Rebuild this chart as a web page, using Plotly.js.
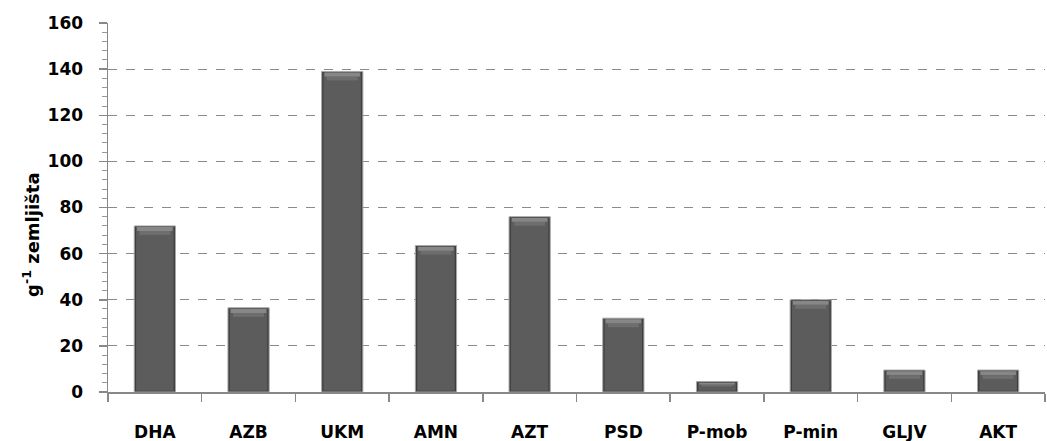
<!DOCTYPE html>
<html>
<head>
<meta charset="utf-8">
<script src="https://cdn.plot.ly/plotly-3.0.1.min.js"></script>
<style>html,body{margin:0;padding:0;background:#fff;}#chart{width:1047px;height:441px;}</style>
</head>
<body>
<div id="chart"></div>
<script>
const categories = ["DHA", "AZB", "UKM", "AMN", "AZT", "PSD", "P-mob", "P-min", "GLJV", "AKT"];
const values = [72, 36.5, 139, 63.5, 76, 32, 4.5, 40, 9.5, 9.5];
const yTickVals = [0, 20, 40, 60, 80, 100, 120, 140, 160];
const yTitle = "g<sup>-1</sup> zemljišta";

const FONT = "DejaVu Sans, Liberation Sans, sans-serif";
const edge = 0.5;
const capH = values.map(v => Math.min(3.4, v * 0.35));

const traces = [
  { // outer bar with light outline and dark edge
    type: "bar", x: categories, y: values, width: 0.44,
    marker: {color: "#3e3e3e", line: {color: "#a8a8a8", width: 1}},
    hoverinfo: "x+y", showlegend: false
  },
  { // inner body
    type: "bar", x: categories, y: values.map(v => Math.max(v - 2 * edge, 0)), base: values.map(() => edge), width: 0.40,
    marker: {color: "#5c5c5c", line: {width: 0}},
    hoverinfo: "skip", showlegend: false
  },
  { // top bevel, lower part
    type: "bar", x: categories, y: capH.map(c => c * 0.5), base: values.map((v, i) => v - edge - capH[i]), width: 0.33,
    marker: {color: "#6e6e6e", line: {width: 0}},
    hoverinfo: "skip", showlegend: false
  },
  { // top bevel, upper highlight
    type: "bar", x: categories, y: capH.map(c => c * 0.5), base: values.map((v, i) => v - edge - capH[i] * 0.5), width: 0.38,
    marker: {color: "#878787", line: {width: 0}},
    hoverinfo: "skip", showlegend: false
  }
];

const layout = {
  width: 1047, height: 441,
  margin: {l: 108, r: 2, t: 23, b: 49},
  paper_bgcolor: "#fff", plot_bgcolor: "#fff",
  barmode: "overlay",
  font: {family: FONT, color: "#000"},
  xaxis: {
    type: "category", tickson: "boundaries", ticks: "outside", ticklen: 8, tickcolor: "#888", tickwidth: 1.5,
    showline: true, linecolor: "#888", linewidth: 1.5, showgrid: false,
    tickfont: {family: FONT, size: 17, color: "#000", weight: "bold"},
    ticklabelstandoff: 24, fixedrange: true
  },
  yaxis: {
    range: [0, 160], tickvals: yTickVals, ticks: "outside", ticklen: 8, tickcolor: "#888", tickwidth: 1.5,
    showline: true, linecolor: "#888", linewidth: 1.5,
    showgrid: true, gridcolor: "#8a8a8a", griddash: "dash", gridwidth: 1.2, zeroline: false,
    minor: {dtick: 4, ticks: "outside", ticklen: 5, tickcolor: "#999", tickwidth: 1, showgrid: false},
    tickfont: {family: FONT, size: 17, color: "#000", weight: "bold"},
    ticklabelstandoff: 12,
    fixedrange: true
  },
  annotations: [{
    text: yTitle, xref: "paper", yref: "paper", x: 0, y: 0.4255,
    xanchor: "center", yanchor: "middle", xshift: -77, textangle: -90, showarrow: false,
    font: {family: FONT, size: 18, color: "#000", weight: "bold"}
  }]
};

Plotly.newPlot("chart", traces, layout, {displayModeBar: false, staticPlot: true});
</script>
</body>
</html>
